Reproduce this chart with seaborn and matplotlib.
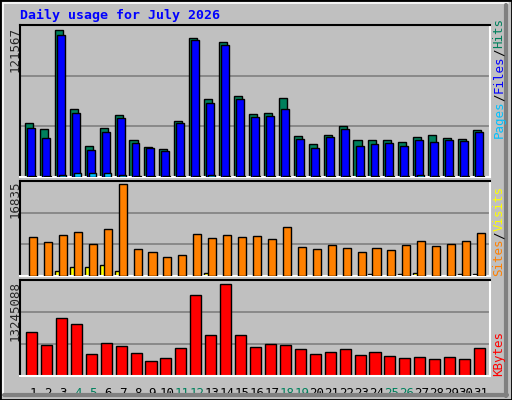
import matplotlib
matplotlib.use("Agg")
import matplotlib.pyplot as plt
import seaborn as sns
import numpy as np
from matplotlib.lines import Line2D
from matplotlib.patches import Rectangle

days = list(range(1, 32))
hits = [44658, 39696, 121567, 56236, 25637, 40523, 51274, 30599, 24810, 23156, 46312, 114953, 64506, 111645, 66987,
        52101, 52928, 65333, 33907, 27291, 34734, 42177, 30599, 30599, 30599, 28945, 33080, 34734, 32253, 31426, 38869]
files = [40523, 32253, 117434, 52928, 22329, 37215, 48793, 28118, 23983, 21502, 44658, 113299, 61198, 109164, 64506,
         49620, 50447, 56236, 31426, 23983, 33080, 39696, 25637, 27291, 28118, 25637, 30599, 28945, 30599, 29772, 37215]
pages = [500, 500, 2000, 2900, 2900, 3700, 2000, 500, 500, 500, 500, 500, 2000, 500, 500,
         500, 500, 500, 500, 500, 500, 500, 500, 500, 500, 500, 2000, 500, 500, 500, 500]
sites = [7082, 6167, 7448, 7997, 5801, 8546, 16835, 4886, 4337, 3422, 3788, 7631, 6899, 7448, 7082,
         7265, 6716, 8912, 5252, 4886, 5618, 5069, 4337, 5069, 4703, 5618, 6350, 5435, 5801, 6350, 7814]
visits = [90, 90, 860, 1590, 1590, 1960, 860, 90, 90, 90, 90, 90, 490, 90, 90,
          90, 90, 90, 90, 90, 90, 90, 90, 310, 90, 310, 490, 90, 90, 310, 310]
kbytes = [6284000, 4399000, 8314000, 7444000, 3094000, 4689000, 4254000, 3239000, 2224000, 2514000, 3964000,
          11650000, 5849000, 13245088, 5849000, 4109000, 4544000, 4399000, 3819000, 3094000, 3384000, 3819000,
          2949000, 3384000, 2804000, 2514000, 2659000, 2369000, 2659000, 2369000, 3964000]
weekend = [4, 5, 11, 12, 18, 19, 25, 26]
title = "Daily usage for July 2026"

sns.set_theme(style="white")
BG = "#C0C0C0"
GREEN = "#00805C"
mono = "DejaVu Sans Mono"
fig = plt.figure(figsize=(5.12, 4.0), dpi=100, facecolor=BG)

# frame
fig.patches.append(Rectangle((0, 0), 1, 1, transform=fig.transFigure, fill=False, ec="black", lw=2))
fig.add_artist(Line2D([3/512, 3/512], [4/400, 1-3/400], color="white", lw=1.2))
fig.add_artist(Line2D([3/512, 1-4/512], [1-3/400, 1-3/400], color="white", lw=1.2))
fig.add_artist(Line2D([1-6/512, 1-6/512], [4/400, 1-5/400], color="#808080", lw=3))
fig.add_artist(Line2D([4/512, 1-5/512], [5/400, 5/400], color="#808080", lw=3))

x = np.array(days, dtype=float)
xlim = (0.13, 31.6)

def panel(bottom, height, ymax):
    ax = fig.add_axes([20/512, bottom, 470/512, height])
    ax.set_facecolor(BG)
    ax.set_xlim(*xlim)
    ax.set_ylim(0, ymax)
    for g in (ymax/3, 2*ymax/3):
        ax.axhline(g, color="#808080", lw=1.2, zorder=0)
    ax.set_xticks([]); ax.set_yticks([])
    ax.spines["left"].set_color("black"); ax.spines["top"].set_color("black")
    ax.spines["right"].set_color("white"); ax.spines["bottom"].set_color("white")
    for s in ax.spines.values():
        s.set_linewidth(1.5)
    return ax

ax1 = panel(1-177/400, 152/400, 125700)
ax1.bar(x-0.27, hits, width=0.54, color=GREEN, ec="black", lw=1, zorder=2)
ax1.bar(x-0.135, files, width=0.53, color="#0000FF", ec="black", lw=1, zorder=3)
ax1.bar(x-0.035, pages, width=0.47, color="#00C0FF", ec="black", lw=1, zorder=4)

ax2 = panel(1-276/400, 95/400, 17385)
ax2.bar(x-0.37, visits, width=0.34, color="#FFFF00", ec="black", lw=1, zorder=2)
ax2.bar(x, sites, width=0.54, color="#FF8000", ec="black", lw=1, zorder=3)

ax3 = panel(1-376/400, 96/400, 13777000)
ax3.bar(x-0.1, kbytes, width=0.74, color="#FF0000", ec="black", lw=1, zorder=2)
ax3.set_xticks(days)
ax3.set_xticklabels([str(d) for d in days], family=mono, fontsize=9)
ax3.tick_params(axis="x", length=0, pad=8)
for lab, d in zip(ax3.get_xticklabels(), days):
    lab.set_color(GREEN if d in weekend else "black")

fig.text(20/512, 1-15/400, title, family=mono, weight="bold", color="#0000FF", fontsize=9.5, va="center")

def ylab(txt, ytop):
    fig.text(15/512, 1-ytop/400, txt, rotation=90, family=mono, fontsize=9, va="top", ha="center")
ylab(f"{max(hits)}", 27)
ylab(f"{max(sites)}", 181)
ylab(f"{max(kbytes)}", 281)

def rlab(parts, ybot):
    y = ybot
    for txt, col in parts:
        t = fig.text(499/512, 1-y/400, txt, rotation=90, family=mono, fontsize=9, color=col, va="bottom", ha="center")
        y -= 7.2*len(txt) + 1
rlab([("Pages", "#00C0FF"), ("/", "black"), ("Files", "#0000FF"), ("/", "black"), ("Hits", GREEN)], 138)
rlab([("Sites", "#FF8000"), ("/", "black"), ("Visits", "#FFFF00")], 276)
rlab([("KBytes", "#FF0000")], 376)

fig.savefig("out.png", dpi=100, facecolor=BG)
